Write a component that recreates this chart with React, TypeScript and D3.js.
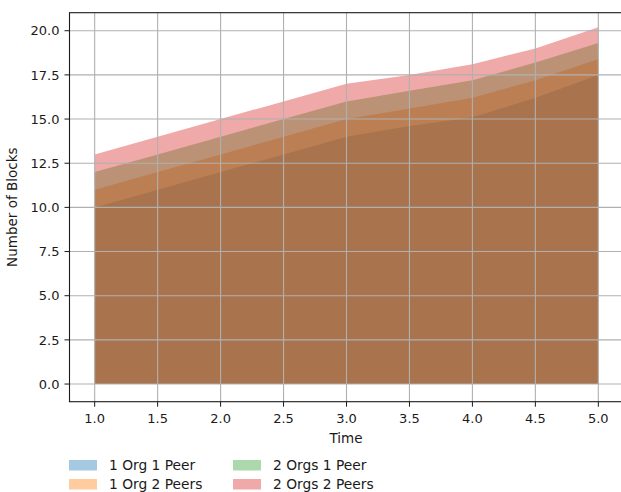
import * as d3 from "d3";

const times = [1, 1.5, 2, 2.5, 3, 3.5, 4, 4.5, 5];
const oneOrgOnePeer = [10, 11, 12, 13, 14, 14.6, 15.1, 16.2, 17.5];
const oneOrgTwoPeers = [11, 12, 13, 14, 15, 15.6, 16.2, 17.2, 18.4];
const twoOrgsOnePeer = [12, 13, 14, 15, 16, 16.6, 17.2, 18.2, 19.3];
const twoOrgsTwoPeers = [13, 14, 15, 16, 17, 17.5, 18.1, 19.0, 20.2];

const seriesNames = ["1 Org 1 Peer", "1 Org 2 Peers", "2 Orgs 1 Peer", "2 Orgs 2 Peers"];
const seriesColors = ["#1f77b4", "#ff7f0e", "#2ca02c", "#d62728"];
const xTicks = [1, 1.5, 2, 2.5, 3, 3.5, 4, 4.5, 5];
const yTicks = [0, 2.5, 5, 7.5, 10, 12.5, 15, 17.5, 20];

const width = 621,
  height = 492;
const plot = { left: 69.5, right: 623.5, top: 12.7, bottom: 401.7 };
const font = "'DejaVu Sans', sans-serif";

export default function App() {
  const x = d3.scaleLinear().domain([0.8, 5.2]).range([plot.left, plot.right]);
  const y = d3.scaleLinear().domain([-1.0, 21.02]).range([plot.bottom, plot.top]);
  const all = [oneOrgOnePeer, oneOrgTwoPeers, twoOrgsOnePeer, twoOrgsTwoPeers];

  const area = d3
    .area<number>()
    .x((d, i) => x(times[i]))
    .y0(() => y(0))
    .y1((d) => y(d));

  const fmt = d3.format(".1f");

  return (
    <svg
      width={width}
      height={height}
      style={{ position: "absolute", left: 0, top: 0 }}
      fontFamily={font}
    >
      <rect x={0} y={0} width={width} height={height} fill="white" />
      {all.map((vals, k) => (
        <path key={k} d={area(vals) ?? ""} fill={seriesColors[k]} fillOpacity={0.4} />
      ))}
      {/* grid, on top of the areas */}
      <g stroke="#b0b0b0" strokeWidth={1.1}>
        {xTicks.map((t) => (
          <line key={"gx" + t} x1={x(t)} x2={x(t)} y1={plot.top} y2={plot.bottom} />
        ))}
        {yTicks.map((t) => (
          <line key={"gy" + t} x1={plot.left} x2={plot.right} y1={y(t)} y2={y(t)} />
        ))}
      </g>
      <rect
        x={plot.left}
        y={plot.top}
        width={plot.right - plot.left}
        height={plot.bottom - plot.top}
        fill="none"
        stroke="#1a1a1a"
        strokeWidth={1.1}
      />
      <g fontSize={13} fill="#1a1a1a">
        {xTicks.map((t) => (
          <g key={"xt" + t}>
            <line x1={x(t)} x2={x(t)} y1={plot.bottom} y2={plot.bottom + 5} stroke="#1a1a1a" />
            <text x={x(t)} y={422.5} textAnchor="middle">
              {fmt(t)}
            </text>
          </g>
        ))}
        {yTicks.map((t) => (
          <g key={"yt" + t}>
            <line x1={plot.left - 5} x2={plot.left} y1={y(t)} y2={y(t)} stroke="#1a1a1a" />
            <text x={plot.left - 10} y={y(t) + 4.7} textAnchor="end">
              {fmt(t)}
            </text>
          </g>
        ))}
        <text x={346} y={443} textAnchor="middle" fontSize={13.5}>
          Time
        </text>
        <text
          transform={`translate(17,${(plot.top + plot.bottom) / 2}) rotate(-90)`}
          textAnchor="middle"
          fontSize={13.5}
        >
          Number of Blocks
        </text>
      </g>
      <g fontSize={13.8} fill="#1a1a1a">
        {seriesNames.map((name, k) => {
          const col = Math.floor(k / 2);
          const row = k % 2;
          const px = col === 0 ? 69 : 233;
          const py = row === 0 ? 465.5 : 484.5;
          return (
            <g key={name}>
              <rect
                x={px}
                y={py - 5.5}
                width={28}
                height={10.5}
                fill={seriesColors[k]}
                fillOpacity={0.4}
              />
              <text x={px + 40} y={py + 4.8}>
                {name}
              </text>
            </g>
          );
        })}
      </g>
    </svg>
  );
}
